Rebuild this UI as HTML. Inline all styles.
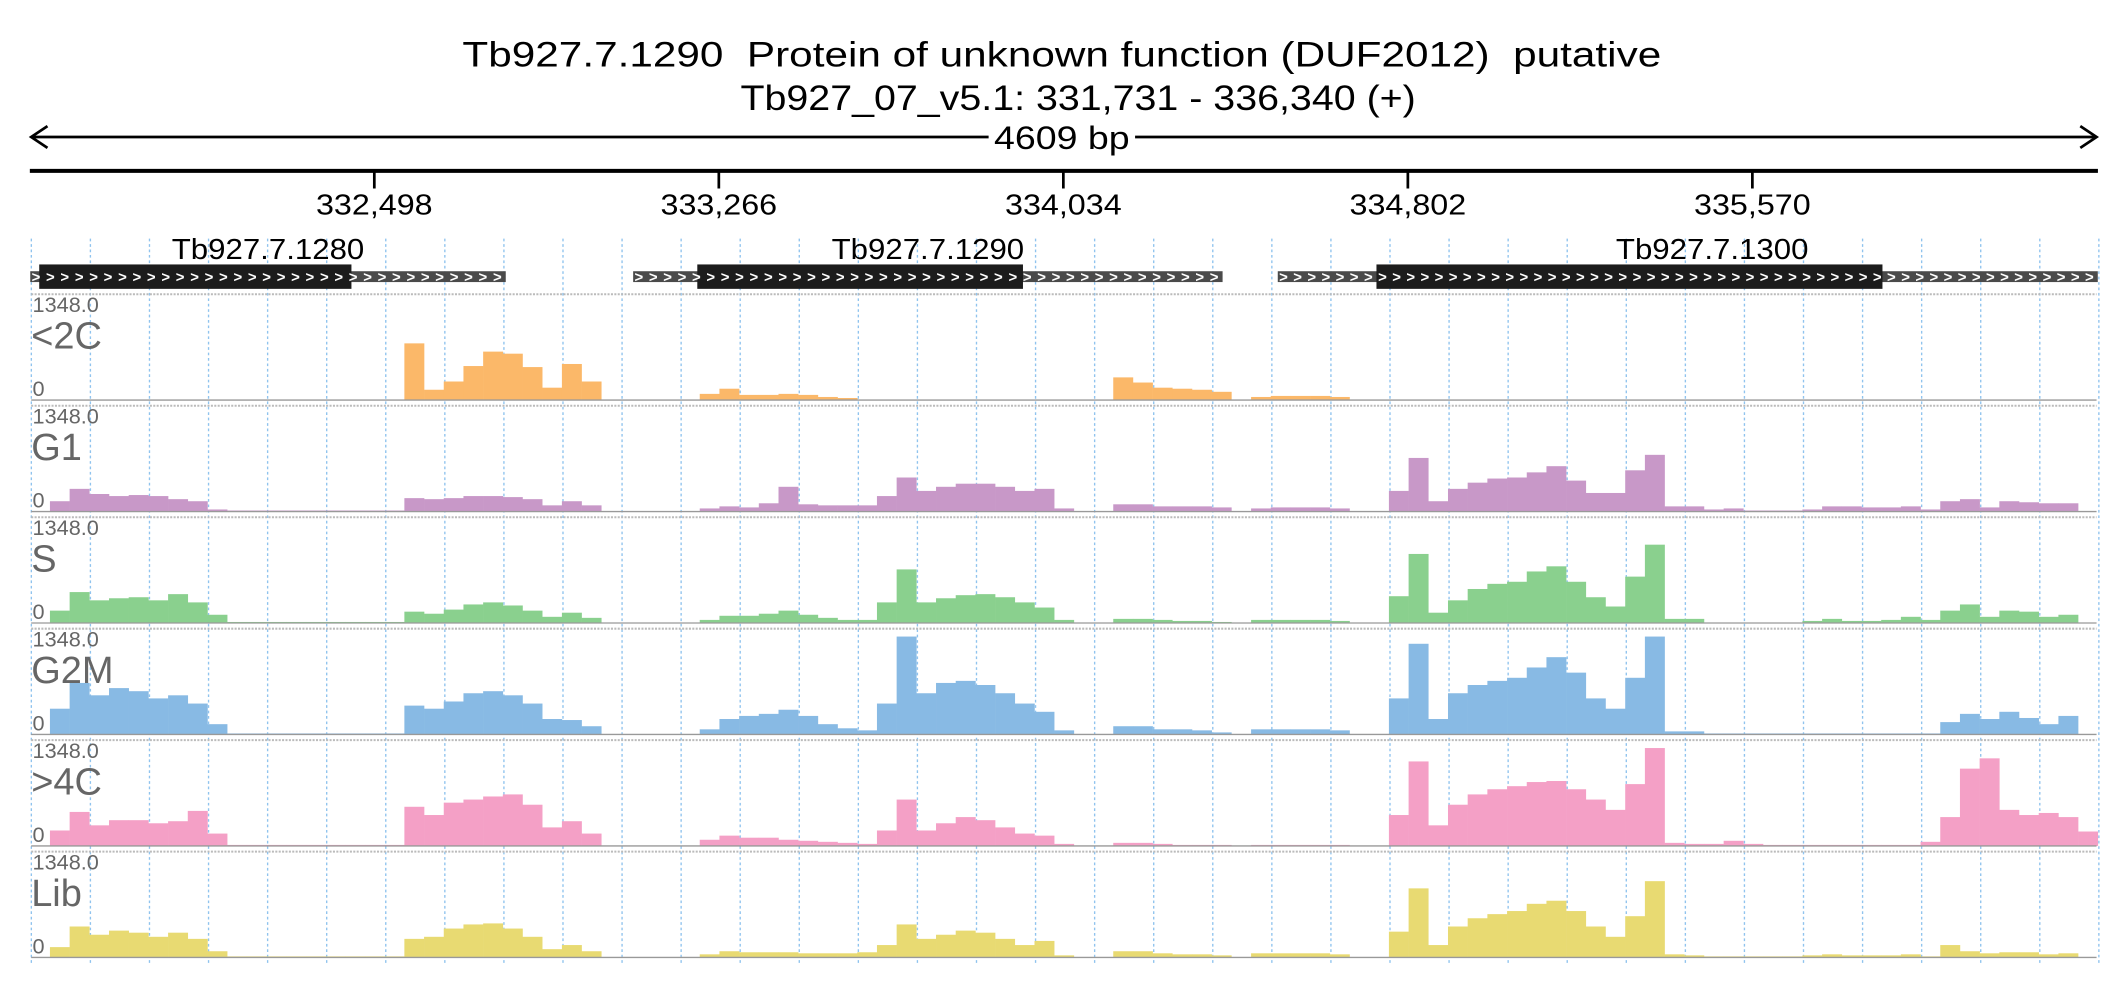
<!DOCTYPE html>
<html><head><meta charset="utf-8"><style>
html,body{margin:0;padding:0;background:#fff;}
svg{display:block;font-family:"Liberation Sans",sans-serif;}
</style></head><body>
<svg id="chart" width="2126" height="1000" viewBox="0 0 1567.7 737.4" xmlns="http://www.w3.org/2000/svg">
<text x="783" y="49" font-size="26" text-anchor="middle" fill="#000" textLength="884" lengthAdjust="spacingAndGlyphs" xml:space="preserve">Tb927.7.1290  Protein of unknown function (DUF2012)  putative</text>
<text x="795" y="81" font-size="26" text-anchor="middle" fill="#000" textLength="498" lengthAdjust="spacingAndGlyphs">Tb927_07_v5.1: 331,731 - 336,340 (+)</text>
<g>
<line x1="23" y1="101" x2="1546" y2="101" stroke="#000" stroke-width="2"/>
<polyline points="35,93 23,101 35,109" fill="none" stroke="#000" stroke-width="2"/>
<polyline points="1534,93 1546,101 1534,109" fill="none" stroke="#000" stroke-width="2"/>
<rect x="729" y="90" width="108" height="22" fill="#fff"/>
<text x="783" y="110" font-size="24" text-anchor="middle" textLength="100" lengthAdjust="spacingAndGlyphs">4609 bp</text>
</g>
<line x1="22" y1="126" x2="1547" y2="126" stroke="#000" stroke-width="3"/>
<g id="xticks"></g>
<g id="grid"></g>
<g id="genes"></g>
<g id="tracks"></g>
</svg>
<script>
const NS="http://www.w3.org/2000/svg";
const startBp=331731, endBp=336340;
const tickValues=[332498,333266,334034,334802,335570];
const trackNames=["<2C","G1","S","G2M",">4C","Lib"];
const trackColors=["#fbb869","#c898c8","#8ad08e","#88bae4","#f4a0c6","#e8da72"];
const yMaxLabel="1348.0";
const nBins=105;
const valsC2=[0,0,0,0,0,0,0,0,0,0, 0,0,0,0,0,0,0,0,0,55, 10,18,33,47,45,32,12,35,18,0, 0,0,0,0,6,11,5,5,6,5, 3,2,0,0,0,0,0,0,0,0, 0,0,0,0,0,22,17,12,11,10, 8,0,3,4,4,4,3,0,0,0, 0,0,0,0,0,0,0,0,0,0, 0,0,0,0,0,0,0,0,0,0, 0,0,0,0,0,0,0,0,0,0, 0,0,0,0,0];
const valsG1=[0,10,22,17,15,16,15,12,10,2, 1,1,1,1,1,1,1,1,1,13, 12,13,15,15,14,12,6,10,6,0, 0,0,0,0,3,5,4,8,24,7, 6,6,6,15,33,20,24,27,27,24, 20,22,3,0,0,7,7,5,5,5, 4,0,3,4,4,4,3,0,0,20, 52,10,22,28,32,33,38,44,30,18, 18,40,55,5,5,2,3,1,1,1, 2,5,5,4,4,5,2,10,12,4, 10,9,8,8,0];
const valsS=[0,12,30,22,24,25,22,28,20,8, 1,1,1,1,1,1,1,1,1,11, 9,13,18,20,17,12,6,10,5,0, 0,0,0,0,3,7,7,9,12,8, 5,3,3,20,52,20,24,27,28,25, 20,15,3,0,0,4,4,3,2,2, 1,0,3,3,3,3,2,0,0,26, 67,10,22,33,38,40,50,55,40,25, 16,45,76,4,4,0,0,0,0,0, 2,4,2,2,3,6,3,12,18,6, 12,11,6,8,0];
const valsG2M=[0,25,50,38,45,42,35,38,30,10, 1,1,1,1,1,1,1,1,1,28, 25,32,40,42,38,30,15,14,8,0, 0,0,0,0,5,15,18,20,24,18, 10,6,4,30,95,40,50,52,48,40, 30,22,4,0,0,8,8,5,5,4, 2,0,5,5,5,5,4,0,0,35, 88,15,40,48,52,55,65,75,60,35, 25,55,95,3,3,1,1,1,1,1, 1,1,1,1,1,1,1,12,20,15, 22,16,10,18,0];
const vals4C=[0,15,33,20,25,25,22,24,34,12, 1,1,1,1,1,1,1,1,1,38, 30,42,45,48,50,40,18,24,12,0, 0,0,0,0,6,10,8,8,6,5, 4,3,2,15,45,15,22,28,25,18, 12,10,2,0,0,3,3,2,1,1, 1,0,1,1,1,1,1,0,0,30, 82,20,40,50,55,58,62,63,55,45, 35,60,95,3,2,2,5,2,1,1, 1,1,1,1,1,1,4,28,75,85, 35,30,32,28,14];
const valsLib=[0,10,30,22,26,24,20,24,18,6, 1,1,1,1,1,1,1,1,1,18, 20,28,32,33,28,20,8,12,6,0, 0,0,0,0,3,6,5,5,5,4, 4,4,5,12,32,18,22,26,24,18, 12,16,2,0,0,6,6,4,3,3, 2,0,4,4,4,4,3,0,0,25, 67,12,30,38,42,45,52,55,45,30, 20,40,74,3,2,1,1,1,1,1, 2,3,2,2,2,3,1,12,6,4, 5,5,3,4,0];
const geneNames=["Tb927.7.1280","Tb927.7.1290","Tb927.7.1300"];
const geneStart=[331731,333075,334512];
const geneEnd=[332791,334389,336340];
const cdsStart=[331751,333218,334732];
const cdsEnd=[332447,333944,335860];

const series=[valsC2,valsG1,valsS,valsG2M,vals4C,valsLib];
const X0=22.3,X1=1546.9;
function xs(bp){return X0+(bp-startBp)/(endBp-startBp)*(X1-X0);}
const binBp=(endBp-startBp)/nBins;
function mk(tag,attrs,parent){const e=document.createElementNS(NS,tag);for(const k in attrs)e.setAttribute(k,attrs[k]);parent.appendChild(e);return e;}

const xt=document.getElementById('xticks');
tickValues.forEach(v=>{
  const x=xs(v);
  const l=mk('line',{x1:x,y1:126,x2:x,y2:139,stroke:'#000','stroke-width':2},xt);
  
  
  const t=mk('text',{x:x,y:158,'font-size':21,'text-anchor':'middle',textLength:86,lengthAdjust:'spacingAndGlyphs'},xt);
  
  
  t.textContent=v.toLocaleString('en-US');
});

const grid=document.getElementById('grid');
for(let i=0;i<=35;i++){
  const x=X0+i*(X1-X0)/35+0.8;
  const l=mk('line',{x1:x,y1:176,x2:x,y2:712,stroke:'#8fc3ee','stroke-width':1,'stroke-dasharray':'2,2'},grid);
  
  
}

const genes=document.getElementById('genes');
geneNames.forEach((n,i)=>{
  const g=mk('g',{},genes);
  
  
  const a=xs(geneStart[i]),b=xs(geneEnd[i]),c=xs(cdsStart[i]),d=xs(cdsEnd[i]);
  mk('rect',{x:a,y:200,width:b-a,height:8,fill:'#4a4a4a'},g);
  mk('rect',{x:c,y:195,width:d-c,height:18,fill:'#1c1c1c'},g);
  const chev=mk('text',{x:a+1,y:208,'font-size':11,fill:'#fff','font-weight':'bold',textLength:(b-a-4),lengthAdjust:'spacing'},g);
  chev.textContent='>'.repeat(Math.max(1,Math.floor((b-a)/10.4)));
  const t=mk('text',{x:(a+b)/2+(i===2?18:0),y:191,'font-size':21,'text-anchor':'middle',textLength:142,lengthAdjust:'spacingAndGlyphs'},g);
  
  
  t.textContent=n;
});

const tracks=document.getElementById('tracks');
series.forEach((vals,k)=>{
  const T=217+82.2*k, B=T+78, H=76;
  const g=mk('g',{},tracks);
  
  
  const sep=mk('line',{x1:23,y1:T,x2:1546,y2:T,stroke:'#bbb','stroke-width':1.5,'stroke-dasharray':'1.5,1'},g);
  
  
  vals.forEach((v,i)=>{
    if(v<=0)return;
    const x=xs(startBp+i*binBp), w=xs(startBp+(i+1)*binBp)-x;
    const h=v/100*H;
    const r=mk('rect',{x:x,y:B-h,width:w+0.2,height:h,fill:trackColors[k]},g);
    
    
  });
  const base=mk('line',{x1:23,y1:B,x2:1546,y2:B,stroke:'#999','stroke-width':1},g);
  
  
  const mx=mk('text',{x:24,y:T+13,'font-size':16,fill:'#666'},g);
  
  
  mx.textContent=yMaxLabel;
  const nm=mk('text',{x:23,y:T+40,'font-size':28,fill:'#666'},g);
  
  
  nm.textContent=trackNames[k];
  const z=mk('text',{x:24,y:B-3,'font-size':16,fill:'#666'},g);
  
  
  z.textContent='0';
});
</script>
</body></html>
